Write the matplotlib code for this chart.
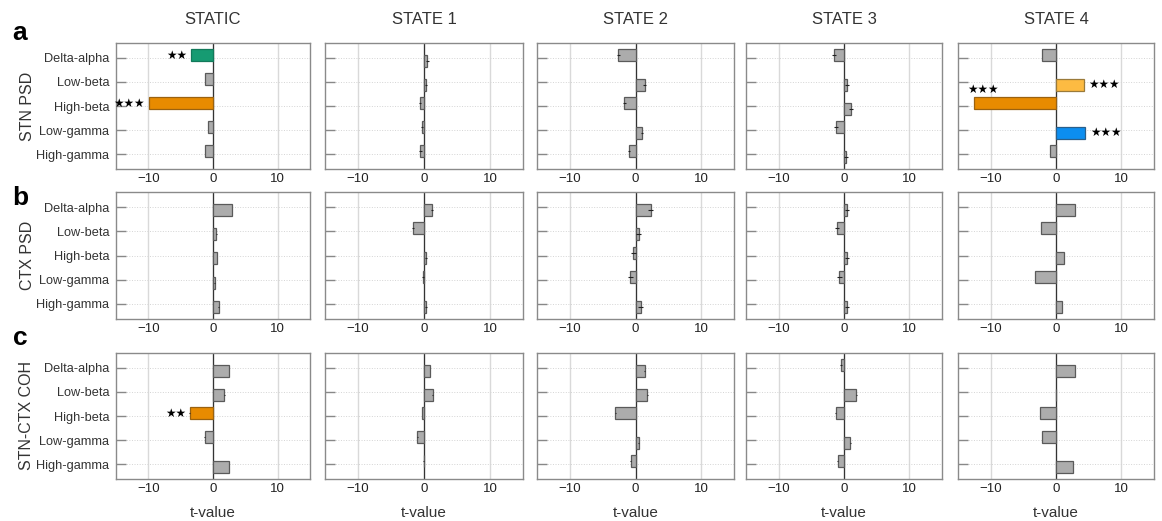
import matplotlib
matplotlib.use("Agg")
import matplotlib.pyplot as plt
import numpy as np

plt.rcParams['font.family'] = ['Liberation Sans', 'DejaVu Sans']

bands = ["Delta-alpha", "Low-beta", "High-beta", "Low-gamma", "High-gamma"]
states = ["STATIC", "STATE 1", "STATE 2", "STATE 3", "STATE 4"]
measures = ["STN PSD", "CTX PSD", "STN-CTX COH"]
letters = ["a", "b", "c"]

# t-values, one list per state, bands in order
stn_psd = [
	[-3.4, -1.3, -9.9, -0.8, -1.2],
	[0.5, 0.3, -0.6, -0.3, -0.55],
	[-2.6, 1.4, -1.7, 1.0, -1.0],
	[-1.6, 0.45, 1.1, -1.2, 0.25],
	[-2.1, 4.3, -12.6, 4.5, -0.85],
]
ctx_psd = [
	[2.95, 0.5, 0.6, 0.25, 0.9],
	[1.15, -1.7, 0.35, -0.2, 0.35],
	[2.3, 0.5, -0.35, -0.8, 0.8],
	[0.45, -1.1, 0.45, -0.7, 0.45],
	[2.9, -2.3, 1.15, -3.2, 0.9],
]
stn_ctx_coh = [
	[2.45, 1.75, -3.6, -1.3, 2.5],
	[0.9, 1.3, -0.3, -1.0, -0.05],
	[1.4, 1.8, -3.05, 0.5, -0.75],
	[-0.45, 1.9, -1.25, 0.95, -0.95],
	[2.9, 0.05, -2.5, -2.1, 2.6],
]

# rough error sizes per state
stn_psd_err = [0.0, 0.2, 0.2, 0.3, 0.0]
ctx_psd_err = [0.05, 0.15, 0.35, 0.35, 0.0]
stn_ctx_coh_err = [0.05, 0.05, 0.1, 0.1, 0.0]

# significance stars: (measure, state, band) -> label
stars = {
	(0, 0, 0): "★★",
	(0, 0, 2): "★★★",
	(0, 4, 1): "★★★",
	(0, 4, 2): "★★★",
	(0, 4, 3): "★★★",
	(2, 0, 2): "★★",
}

all_values = [stn_psd, ctx_psd, stn_ctx_coh]
all_errs = [stn_psd_err, ctx_psd_err, stn_ctx_coh_err]

# highlighted bars: fill, edge
highlight = {
	(0, 0, 0): ("#169b72", "#12795a"),
	(0, 0, 2): ("#e88b00", "#9a6210"),
	(0, 4, 1): ("#fdbb42", "#9a7a3a"),
	(0, 4, 2): ("#e88b00", "#9a6210"),
	(0, 4, 3): ("#0c8ef0", "#2a5f8a"),
	(2, 0, 2): ("#e88b00", "#9a6210"),
}

W, H = 1162, 521
fig = plt.figure(figsize=(W / 100, H / 100), dpi=100)

col_x = [(116, 310), (325, 523), (537, 734), (746, 942), (958, 1154)]
row_y = [(43, 169), (192, 319), (353, 479)]
letter_base = [40, 205, 345]

pos = np.arange(len(bands))
for r, measure in enumerate(measures):
	for c, state in enumerate(states):
		x0, x1 = col_x[c]
		y0, y1 = row_y[r]
		ax = fig.add_axes([x0 / W, 1 - y1 / H, (x1 - x0) / W, (y1 - y0) / H])
		vals = np.array(all_values[r][c])
		offs = 0.12 * np.sign(vals)
		colors = [highlight.get((r, c, b), ("#acacac", "#5a5a5a"))[0] for b in range(len(bands))]
		edges = [highlight.get((r, c, b), ("#acacac", "#5a5a5a"))[1] for b in range(len(bands))]
		ax.barh(pos + offs, vals, height=0.5, color=colors, edgecolor=edges, linewidth=0.9, zorder=3)
		err = all_errs[r][c]
		if err > 0:
			ax.errorbar(vals, pos + offs, xerr=err, fmt="none", ecolor="#222222", elinewidth=0.8, zorder=4)
		ax.axvline(0, color="#333333", lw=0.9, zorder=2)
		for b in range(len(bands)):
			s = stars.get((r, c, b))
			if s is None:
				continue
			v = vals[b]
			if r == 0 and c == 4 and b == 2:
				ax.text(v + 1.4, pos[b] + offs[b] - 0.55, s, ha="center", va="center", fontsize=8.5, family="DejaVu Sans")
			elif v < 0:
				ax.text(v - 0.6, pos[b] + offs[b], s, ha="right", va="center", fontsize=8.5, family="DejaVu Sans")
			else:
				ax.text(v + 0.7, pos[b] + offs[b], s, ha="left", va="center", fontsize=8.5, family="DejaVu Sans")
		ax.set_xlim(-15, 15)
		ax.set_ylim(4.62, -0.62)
		ax.set_xticks([-10, 0, 10])
		ax.set_xticklabels(["\u221210", "0", "10"])
		ax.set_yticks(pos)
		ax.grid(axis="x", color="#d9d9d9", lw=1.0, zorder=0)
		ax.grid(axis="y", color="#d4d4d4", lw=0.7, ls=":", zorder=0)
		ax.tick_params(axis="x", length=0, labelsize=9.5, colors="#222222", pad=3)
		ax.tick_params(axis="y", direction="in", length=7, color="#888888", width=1.0)
		if c == 0:
			ax.set_yticklabels(bands, fontsize=9.2, color="#333333")
			ax.tick_params(axis="y", pad=5)
		else:
			ax.set_yticklabels([])
		for sp in ax.spines.values():
			sp.set_color("#8a8a8a")
			sp.set_linewidth(1.0)
		if r == 0:
			ax.set_title(state, fontsize=12, color="#333333", pad=14)
		if r == 2:
			fig.text((x0 + x1) / 2 / W, 1 - 513 / H, "t-value", ha="center", va="center", fontsize=11, color="#333333")
	yc = (row_y[r][0] + row_y[r][1]) / 2
	fig.text(27 / W, 1 - yc / H, measure, rotation=90, ha="center", va="center", fontsize=11.5, color="#333333")
	fig.text(20 / W, 1 - letter_base[r] / H, letters[r], ha="center", va="baseline", fontsize=19, fontweight="bold")

fig.savefig("out.png", dpi=100)
